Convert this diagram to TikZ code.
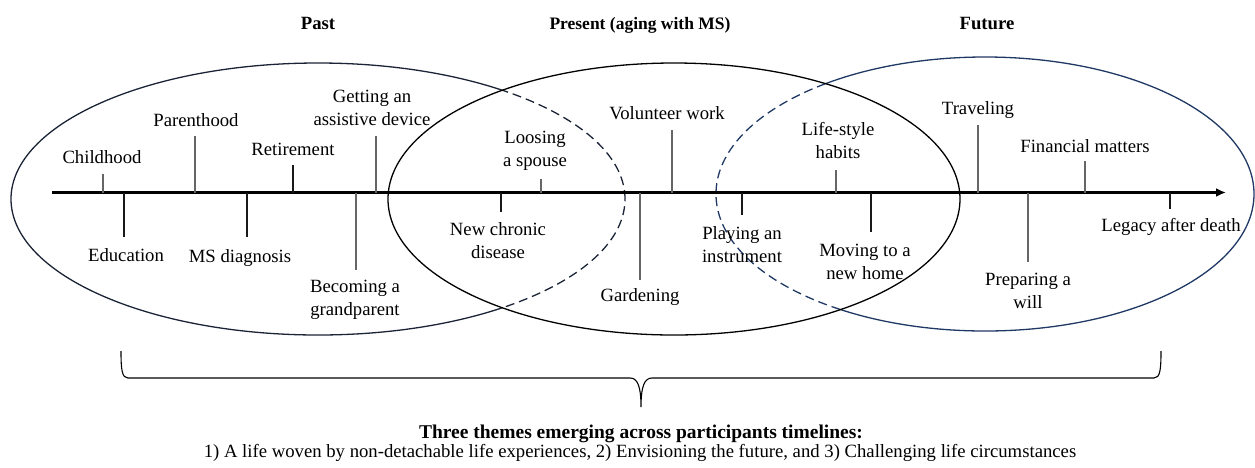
\documentclass[tikz,border=0pt]{standalone}
\usepackage{fontspec}
\setmainfont{Liberation Serif}
\usetikzlibrary{arrows.meta}
\definecolor{navy}{HTML}{1F3864}
\definecolor{pastc}{HTML}{1B2436}
\begin{document}
\begin{tikzpicture}[x=1pt,y=-1pt,
  lab/.style={font=\fontsize{18.7}{23}\selectfont, align=center, inner sep=0pt},
  ttl/.style={font=\fontsize{18.7}{23}\selectfont\bfseries, inner sep=0pt, anchor=base},
  tickg/.style={draw=black!60, line width=1.2pt},
  tickd/.style={draw=black!90, line width=1.2pt},
  ell/.style={line width=1.3pt},
  dsh/.style={dash pattern=on 9pt off 5pt},
  pastell/.style={x radius=307pt, y radius=136pt},
  presell/.style={x radius=286pt, y radius=136pt},
  futell/.style={x radius=269pt, y radius=137pt},
]
\useasboundingbox (0,0) rectangle (1255,467);

% titles
\node[ttl] (past) at (318,29) {Past};
\node[ttl, font=\fontsize{17.5}{23}\selectfont\bfseries] (present) at (640,29) {Present (aging with MS)};
\node[ttl] (future) at (987,29) {Future};

% ellipse centres
\coordinate (pastC) at (318,199);
\coordinate (presC) at (674,199);
\coordinate (futC) at (985,194);

% parts outside the present ellipse: solid
\begin{scope}[even odd rule]
  \clip (0,0) rectangle (1255,467) (presC) ellipse [presell];
  \draw[ell, pastc] (pastC) ellipse [pastell];
  \draw[ell, navy] (futC) ellipse [futell];
\end{scope}
% parts inside the present ellipse: dashed
\begin{scope}
  \clip (presC) ellipse [presell];
  \draw[ell, dsh, pastc] (pastC) ellipse [pastell];
  \draw[ell, dsh, navy] (futC) ellipse [futell];
\end{scope}
\draw[ell] (presC) ellipse [presell];

% timeline
\coordinate (tlS) at (52,192.5);
\coordinate (tlE) at (1226,192.5);
\draw[line width=2.6pt, -{Latex[length=10pt,width=9pt]}] (tlS) -- (tlE);

% labels above
\node[lab] (childhood) at (102,157) {Childhood};
\coordinate (cChildhood) at (103,192.5);
\draw[tickg] (cChildhood) -- ++(0,-18.5);

\node[lab] (parenthood) at (196,120) {Parenthood};
\coordinate (cParenthood) at (195,192.5);
\draw[tickg] (cParenthood) -- ++(0,-56.5);

\node[lab] (retirement) at (293,149) {Retirement};
\coordinate (cRetirement) at (293,192.5);
\draw[tickd] (cRetirement) -- ++(0,-27.5);

\node[lab] (getting) at (372,108) {Getting an\\assistive device};
\coordinate (cGetting) at (376,192.5);
\draw[tickg] (cGetting) -- ++(0,-56.5);

\node[lab] (loosing) at (535,151) {Loosing\\a spouse};
\coordinate (cLoosing) at (541,192.5);
\draw[tickg] (cLoosing) -- ++(0,-13.5);

\node[lab] (volunteer) at (667,113) {Volunteer work};
\coordinate (cVolunteer) at (672,192.5);
\draw[tickg] (cVolunteer) -- ++(0,-62.5);

\node[lab] (lifestyle) at (838,141) {Life-style\\habits};
\coordinate (cLifestyle) at (836,192.5);
\draw[tickg] (cLifestyle) -- ++(0,-22.5);

\node[lab] (traveling) at (978,110) {Traveling};
\coordinate (cTraveling) at (978,192.5);
\draw[tickg] (cTraveling) -- ++(0,-67.5);

\node[lab] (financial) at (1085,146) {Financial matters};
\coordinate (cFinancial) at (1085,192.5);
\draw[tickg] (cFinancial) -- ++(0,-31.5);

% labels below
\node[lab] (education) at (126,255) {Education};
\coordinate (cEducation) at (124,192.5);
\draw[tickd] (cEducation) -- ++(0,44.5);

\node[lab] (msdiag) at (240,258) {MS diagnosis};
\coordinate (cMsdiag) at (247,192.5);
\draw[tickd] (cMsdiag) -- ++(0,44.5);

\node[lab] (grand) at (355,300) {Becoming a\\grandparent};
\coordinate (cGrand) at (356,192.5);
\draw[tickg] (cGrand) -- ++(0,77.5);

\node[lab] (chronic) at (498,241) {New chronic\\disease};
\coordinate (cChronic) at (501,192.5);
\draw[tickd] (cChronic) -- ++(0,19.5);

\node[lab] (gardening) at (640,297) {Gardening};
\coordinate (cGardening) at (640,192.5);
\draw[tickg] (cGardening) -- ++(0,87.5);

\node[lab] (playing) at (742,245) {Playing an\\instrument};
\coordinate (cPlaying) at (742,192.5);
\draw[tickd] (cPlaying) -- ++(0,22.5);

\node[lab] (moving) at (865,262) {Moving to a\\new home};
\coordinate (cMoving) at (871,192.5);
\draw[tickd] (cMoving) -- ++(0,39.5);

\node[lab] (will) at (1028,291) {Preparing a\\will};
\coordinate (cWill) at (1028,192.5);
\draw[tickg] (cWill) -- ++(0,69.5);

\node[lab] (legacy) at (1171,227) {Legacy after death};
\coordinate (cLegacy) at (1170,192.5);
\draw[tickd] (cLegacy) -- ++(0,16.5);

% brace
\coordinate (bL) at (121,351);
\coordinate (bR) at (1161,351);
\coordinate (bTip) at (641,407);
\draw[line width=1.1pt] (bL) .. controls (121,370) and (122,378) .. (128,378)
  -- (630,378) .. controls (637,378) and (641,385) .. (bTip)
  .. controls (641,385) and (645,378) .. (652,378)
  -- (1154,378) .. controls (1160,378) and (1161,370) .. (bR);

% conclusion
\node[ttl, font=\fontsize{19.5}{23}\selectfont\bfseries] (themes) at (641,438) {Three themes emerging across participants timelines:};
\node[lab, anchor=base] (list) at (640,457) {1) A life woven by non-detachable life experiences, 2) Envisioning the future, and 3) Challenging life circumstances};
\end{tikzpicture}
\end{document}
